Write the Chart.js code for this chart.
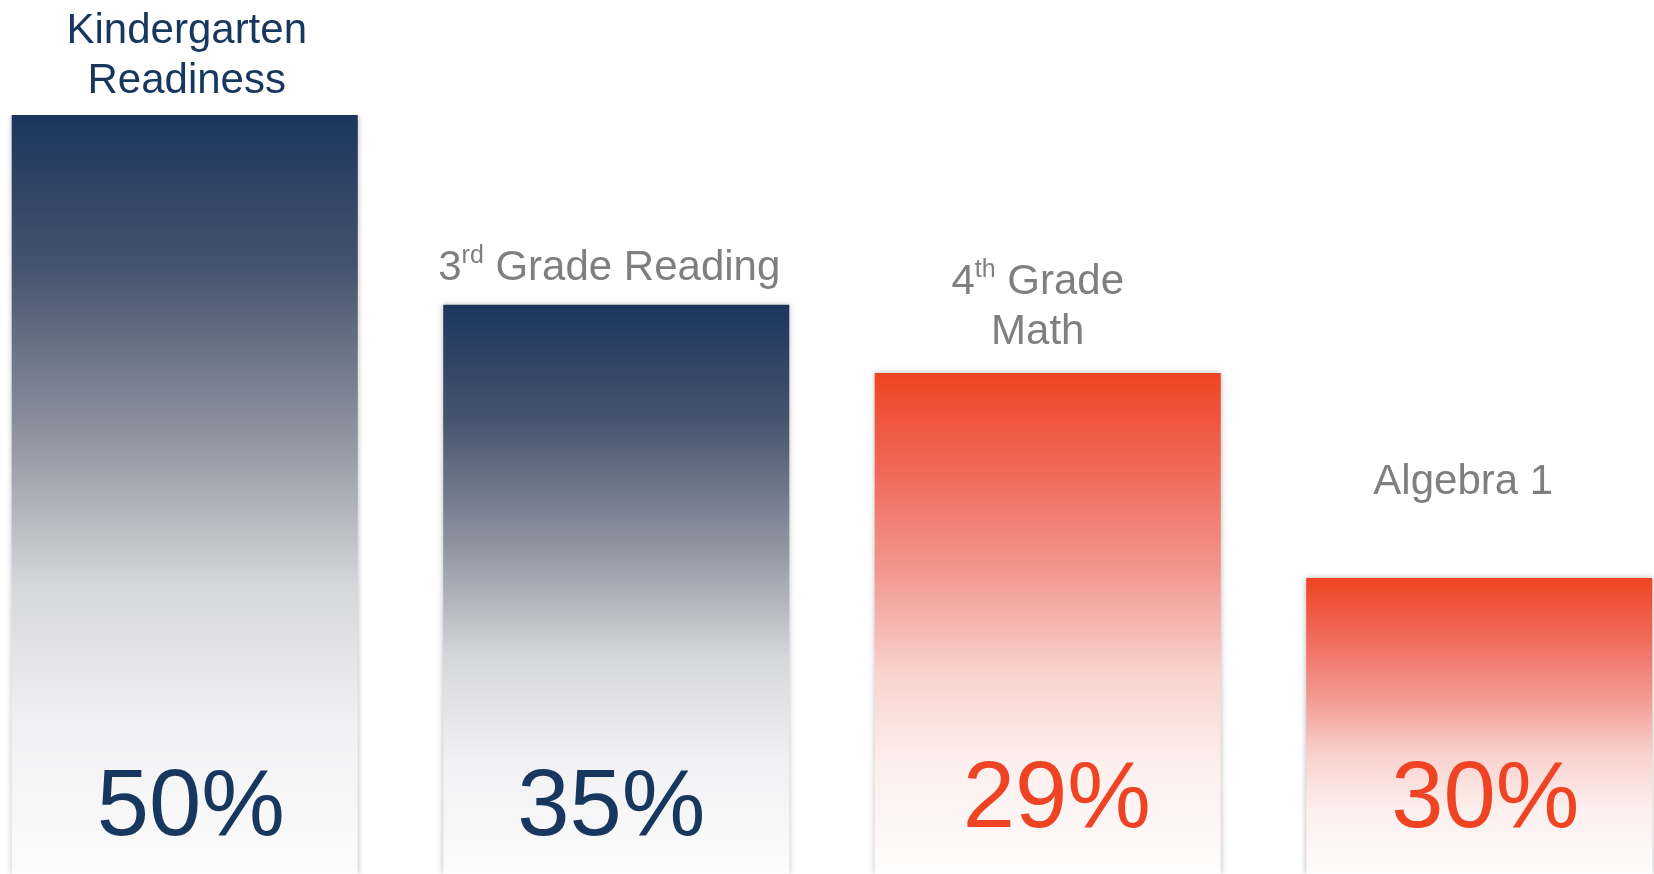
<!DOCTYPE html>
<html>
<head>
<meta charset="utf-8">
<script src="https://cdn.jsdelivr.net/npm/chart.js@4"></script>
<style>
html,body{margin:0;padding:0;background:#fff;overflow:hidden;}
#wrap{position:relative;width:1654px;height:874px;overflow:hidden;}
#c{position:absolute;left:-31px;top:0;}
</style>
</head>
<body>
<div id="wrap"><canvas id="c" width="1726" height="874"></canvas></div>
<script>
// Categories (lines; {..} marks superscript text)
const categories = ["Kindergarten Readiness", "3rd Grade Reading", "4th Grade Math", "Algebra 1"];
const categoryLines = [["Kindergarten", "Readiness"], ["3{rd} Grade Reading"], ["4{th} Grade", "Math"], ["Algebra 1"]];
// Relative bar heights as drawn in the graphic
const barHeights = [100, 75, 66, 39];
// Percentages printed inside the bars
const percentValues = [50, 35, 29, 30];

const NAVY = "#17375e";
const RED = "#ee4423";
const GRAY = "#7f7f7f";
const barTheme = ["navy", "navy", "red", "red"];

const gradStops = {
  navy: [[0, "#1b365d"], [0.2, "#46536f"], [0.42, "#8e939f"], [0.62, "#d6d7db"], [0.8, "#f1f1f3"], [1, "#fcfcfd"]],
  red: [[0, "#ef4423"], [0.2, "#f06a5a"], [0.4, "#f29990"], [0.6, "#f9d2ce"], [0.78, "#fcefed"], [1, "#fefcfc"]]
};

function barGradient(ctx) {
  const chart = ctx.chart;
  const area = chart.chartArea;
  if (!area) return null;
  const y = chart.scales.y;
  const i = ctx.dataIndex;
  const top = y.getPixelForValue(barHeights[i]);
  const bottom = y.getPixelForValue(0);
  const g = chart.ctx.createLinearGradient(0, top, 0, bottom);
  gradStops[barTheme[i]].forEach(s => g.addColorStop(s[0], s[1]));
  return g;
}

const shadowPlugin = {
  id: "shadow",
  beforeDatasetsDraw(chart) {
    const c = chart.ctx;
    c.save();
    c.shadowColor = "rgba(0,0,0,0.28)";
    c.shadowBlur = 6;
    c.shadowOffsetX = 0;
    c.shadowOffsetY = 0;
  },
  afterDatasetsDraw(chart) { chart.ctx.restore(); }
};

function drawRich(c, text, cx, baseline, size, color) {
  // parse superscripts
  const parts = [];
  const re = /\{([^}]*)\}/g;
  let last = 0, m;
  while ((m = re.exec(text))) {
    if (m.index > last) parts.push({t: text.slice(last, m.index), sup: false});
    parts.push({t: m[1], sup: true});
    last = m.index + m[0].length;
  }
  if (last < text.length) parts.push({t: text.slice(last), sup: false});
  const supSize = Math.round(size * 0.6);
  let total = 0;
  parts.forEach(p => {
    c.font = (p.sup ? supSize : size) + "px 'Liberation Sans', Arial, sans-serif";
    p.w = c.measureText(p.t).width;
    total += p.w;
  });
  let x = cx - total / 2;
  c.fillStyle = color;
  c.textAlign = "left";
  c.textBaseline = "alphabetic";
  parts.forEach(p => {
    c.font = (p.sup ? supSize : size) + "px 'Liberation Sans', Arial, sans-serif";
    c.fillText(p.t, x, p.sup ? baseline - size * 0.4 : baseline);
    x += p.w;
  });
}

const labelsPlugin = {
  id: "barLabels",
  afterDraw(chart, args, opts) {
    const c = chart.ctx;
    const meta = chart.getDatasetMeta(0);
    c.save();
    meta.data.forEach((bar, i) => {
      const lines = categoryLines[i];
      const lastBase = bar.y - opts.labelGap[i];
      const cx = bar.x + opts.labelDx[i];
      const col = i === 0 ? NAVY : GRAY;
      lines.forEach((ln, k) => {
        const base = lastBase - (lines.length - 1 - k) * opts.lineHeight;
        drawRich(c, ln, cx, base, opts.labelSize, col);
      });
      c.font = opts.valueSize + "px 'Liberation Sans', Arial, sans-serif";
      c.textAlign = "center";
      c.textBaseline = "alphabetic";
      c.fillStyle = barTheme[i] === "navy" ? NAVY : RED;
      c.fillText(percentValues[i] + "%", bar.x + opts.valueDx[i], opts.valueBase[i]);
    });
    c.restore();
  }
};

new Chart(document.getElementById("c"), {
  type: "bar",
  data: {
    labels: categories,
    datasets: [{
      data: barHeights,
      backgroundColor: barGradient,
      borderWidth: 0,
      barPercentage: 0.802,
      categoryPercentage: 1.0
    }]
  },
  options: {
    responsive: false,
    animation: false,
    layout: { padding: { top: 115, bottom: 0, left: 0, right: 0 } },
    scales: {
      x: { display: false },
      y: { display: false, min: 0, max: 100 }
    },
    plugins: {
      legend: { display: false },
      tooltip: { enabled: false },
      barLabels: {
        labelSize: 42,
        lineHeight: 50,
        valueSize: 94,
        labelGap: [22, 25, 29, 84],
        labelDx: [2, -7, -10, -16],
        valueDx: [6, -5, 9, 6],
        valueBase: [835, 835, 827, 827]
      }
    }
  },
  plugins: [shadowPlugin, labelsPlugin]
});
</script>
</body>
</html>
